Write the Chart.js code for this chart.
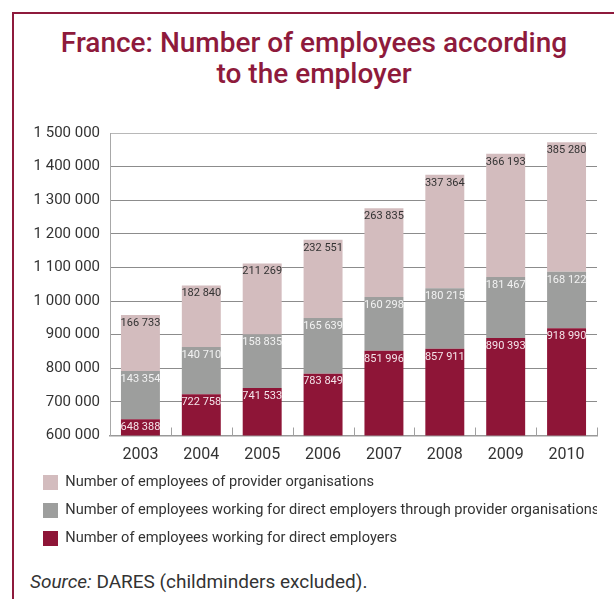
<!DOCTYPE html>
<html>
<head>
<meta charset="utf-8">
<script src="https://cdn.jsdelivr.net/npm/chart.js@4.4.0/dist/chart.umd.min.js"></script>
<style>
  body { margin: 0; background: #fff; width: 614px; height: 599px; overflow: hidden; position: relative; font-family: Roboto, "Open Sans", sans-serif; }
  #frame { position: absolute; left: 12px; top: 12px; right: -5px; bottom: -5px; border-left: 2px solid #8e1a3c; border-top: 2px solid #8e1a3c; }
  #title { position: absolute; left: 14px; width: 600px; top: 27px; text-align: center; color: #8e1a3c; font-size: 28px; font-weight: 500; line-height: 31px; }
  #wrap { position: absolute; left: 14px; top: 114px; width: 600px; height: 442px; }
  #source { position: absolute; left: 30px; top: 572px; font-size: 19px; line-height: 20px; color: #333; }
</style>
</head>
<body>
<div id="frame"></div>
<div id="title">France: Number of employees according<br>to the employer</div>
<div id="wrap"><canvas id="chart"></canvas></div>
<div id="source"><i>Source:</i> DARES (childminders excluded).</div>
<script>
const years = ["2003", "2004", "2005", "2006", "2007", "2008", "2009", "2010"];
const directEmployers = [648388, 722758, 741533, 783849, 851996, 857911, 890393, 918990];
const throughProviders = [143354, 140710, 158835, 165639, 160298, 180215, 181467, 168122];
const providerOrgs = [166733, 182840, 211269, 232551, 263835, 337364, 366193, 385280];

function fmt(v) {
  return String(v).replace(/\B(?=(\d{3})+(?!\d))/g, " ");
}

// value labels at the top of each segment
const segmentLabels = {
  id: "segmentLabels",
  afterDatasetsDraw(chart) {
    const ctx = chart.ctx;
    ctx.save();
    ctx.font = "11px Roboto";
    ctx.textAlign = "center";
    ctx.textBaseline = "middle";
    chart.data.datasets.forEach(function (ds, i) {
      chart.getDatasetMeta(i).data.forEach(function (bar, j) {
        ctx.fillStyle = ds.labelColor;
        ctx.fillText(fmt(ds.data[j]), bar.x, bar.y + 8);
      });
    });
    ctx.restore();
  },
};

// small ticks between the categories, pointing up from the x axis
const categoryTicks = {
  id: "categoryTicks",
  afterDraw(chart) {
    const x = chart.scales.x;
    const ctx = chart.ctx;
    ctx.save();
    ctx.strokeStyle = "#a0a0a0";
    ctx.lineWidth = 1;
    for (let i = 1; i <= years.length; i++) {
      let px = i < years.length
        ? (x.getPixelForValue(i - 1) + x.getPixelForValue(i)) / 2
        : x.right;
      px = Math.round(px) + 0.5;
      ctx.beginPath();
      ctx.moveTo(px, x.top);
      ctx.lineTo(px, x.top - 8);
      ctx.stroke();
    }
    ctx.restore();
  },
};

new Chart(document.getElementById("chart"), {
  type: "bar",
  data: {
    labels: years,
    datasets: [
      {
        label: "Number of employees working for direct employers",
        data: directEmployers,
        backgroundColor: "#8e1537",
        labelColor: "#f4e4ea",
      },
      {
        label: "Number of employees working for direct employers through provider organisations",
        data: throughProviders,
        backgroundColor: "#9d9e9d",
        labelColor: "#f2f2f2",
      },
      {
        label: "Number of employees of provider organisations",
        data: providerOrgs,
        backgroundColor: "#d3bcbe",
        labelColor: "#333333",
      },
    ],
  },
  options: {
    responsive: true,
    maintainAspectRatio: false,
    animation: false,
    layout: { padding: { left: 16, right: 17, top: 9, bottom: 0 } },
    datasets: {
      bar: { barPercentage: 0.64, categoryPercentage: 1 },
    },
    scales: {
      x: {
        stacked: true,
        afterFit: function (scale) {
          scale.height = 26.5;
        },
        grid: { display: false, drawTicks: false },
        border: { color: "#999999", width: 1.5 },
        ticks: { color: "#333", font: { size: 16, family: "Roboto" }, padding: 10 },
      },
      y: {
        stacked: true,
        min: 600000,
        max: 1500000,
        afterFit: function (scale) {
          scale.width = 80;
        },
        grid: {
          drawTicks: false,
          color: function (c) {
            return c.tick && c.tick.value === 1500000 ? "#b8b8b8" : "#8c8c8c";
          },
        },
        border: { color: "#a8a8a8" },
        ticks: {
          stepSize: 100000,
          padding: 10,
          color: "#333",
          font: { size: 15, family: "Roboto" },
          callback: function (v) {
            return fmt(v);
          },
        },
      },
    },
    plugins: {
      legend: {
        position: "bottom",
        align: "start",
        reverse: true,
        labels: {
          boxWidth: 15,
          boxHeight: 15,
          padding: 13,
          color: "#333",
          font: { size: 14.6, family: "Roboto" },
        },
      },
      tooltip: { enabled: false },
    },
  },
  plugins: [segmentLabels, categoryTicks],
});
</script>
</body>
</html>
